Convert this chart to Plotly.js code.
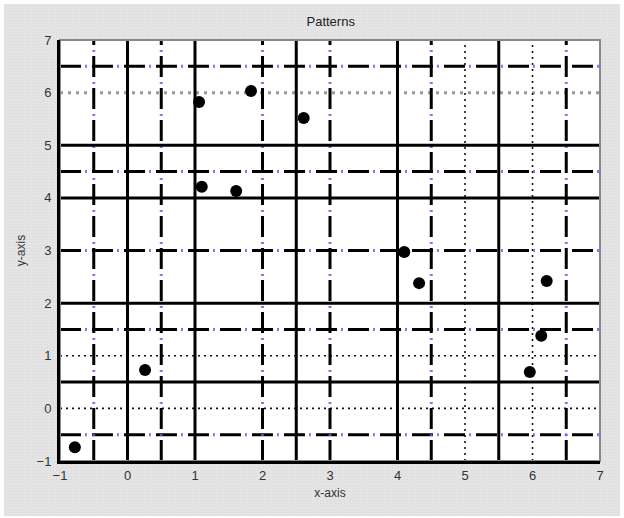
<!DOCTYPE html>
<html>
<head>
<meta charset="utf-8">
<script src="https://cdn.plot.ly/plotly-3.0.1.min.js"></script>
<style>
  html, body { margin:0; padding:0; background:#ffffff; }
  #wrap { position:absolute; left:4px; top:4px; width:616px; height:512px;
          background-color:#e4e4e4;
          background-image: radial-gradient(#d8d8d8 35%, transparent 40%);
          background-size: 3px 3px; }
  #chart { position:absolute; left:-4px; top:-4px; width:624px; height:518px; }
</style>
</head>
<body>
<div id="wrap"><div id="chart"></div></div>
<script>
// Data points
const xValues = [-0.78, 0.26, 1.06, 1.10, 1.61, 1.83, 2.61, 4.10, 4.32, 6.21, 6.13, 5.96];
const yValues = [-0.74, 0.73, 5.82, 4.21, 4.13, 6.03, 5.52, 2.97, 2.38, 2.42, 1.38, 0.69];

// Grid line positions by style
const solidX = [0, 1, 2.5, 4, 5.5];
const dashDotX = [-0.5, 0.5, 2, 3, 4.5, 6.5];
const dotX = [5, 6];
const solidY = [5, 4, 2, 0.5];
const dashDotY = [6.5, 4.5, 3, 1.5, -0.5];
const grayDotY = [6];
const dotY = [1, 0];
const tickVals = [-1, 0, 1, 2, 3, 4, 5, 6, 7];

function vline(v, line) {
  return {type:'line', xref:'x', yref:'paper', x0:v, x1:v, y0:0, y1:1, layer:'below', line:line};
}
function hline(v, line) {
  return {type:'line', xref:'paper', yref:'y', x0:0, x1:1, y0:v, y1:v, layer:'below', line:line};
}
const blueDots = {color:'rgba(90,90,255,0.8)', width:3, dash:'0px,25px,2px,5px'};
const blackDash = {color:'#000', width:3, dash:'21px,11px'};
const solid = {color:'#000', width:3};
const blackDot = {color:'#111', width:1.6, dash:'2px,4px'};
const grayDot = {color:'#999', width:3, dash:'3px,5px'};

const shapes = [];
grayDotY.forEach(v => shapes.push(hline(v, grayDot)));
dotY.forEach(v => shapes.push(hline(v, blackDot)));
dotX.forEach(v => shapes.push(vline(v, blackDot)));
dashDotY.forEach(v => { shapes.push(hline(v, blueDots)); shapes.push(hline(v, blackDash)); });
dashDotX.forEach(v => { shapes.push(vline(v, blueDots)); shapes.push(vline(v, blackDash)); });
solidY.forEach(v => shapes.push(hline(v, solid)));
solidX.forEach(v => shapes.push(vline(v, solid)));
// frame (top/right thin gray)
shapes.push({type:'rect', xref:'paper', yref:'paper', x0:0, x1:1, y0:0, y1:1, layer:'below',
             line:{color:'#888', width:2}});

const trace = {
  x: xValues, y: yValues, type:'scatter', mode:'markers',
  marker:{color:'#000', size:12}, hoverinfo:'skip'
};

const fontFam = '"Liberation Sans", Arial, sans-serif';
const layout = {
  width:624, height:518,
  margin:{l:60, r:24, t:40, b:57},
  paper_bgcolor:'rgba(0,0,0,0)', plot_bgcolor:'#ffffff',
  showlegend:false,
  title:{text:'Patterns', x:0.53, xanchor:'center', y:0.959, yanchor:'middle',
         font:{family:fontFam, size:13, color:'#222'}},
  xaxis:{range:[-1,7], tickvals:tickVals, showgrid:false, zeroline:false,
         showline:true, linecolor:'#000', linewidth:3, ticks:'',
         tickfont:{family:fontFam, size:13, color:'#333'},
         title:{text:'x-axis', standoff:8, font:{family:fontFam, size:12, color:'#333'}}},
  yaxis:{range:[-1,7], tickvals:tickVals, showgrid:false, zeroline:false,
         showline:true, linecolor:'#000', linewidth:3, ticks:'', ticklabelstandoff:3,
         tickfont:{family:fontFam, size:13, color:'#333'},
         title:{text:'y-axis', standoff:9, font:{family:fontFam, size:12, color:'#333'}}},
  shapes: shapes
};

Plotly.newPlot('chart', [trace], layout, {displayModeBar:false, staticPlot:true});
</script>
</body>
</html>
